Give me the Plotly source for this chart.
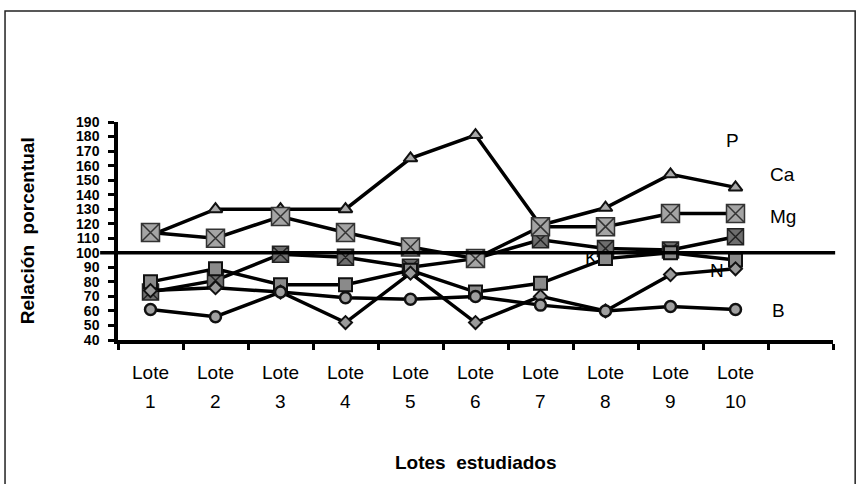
import plotly.graph_objects as go

lotes = [1, 2, 3, 4, 5, 6, 7, 8, 9, 10]
lote_word = "Lote"
lote_nums = ["1", "2", "3", "4", "5", "6", "7", "8", "9", "10"]

N_vals = [74, 76, 73, 52, 86, 52, 70, 60, 85, 89]
P_vals = [80, 89, 78, 78, 88, 73, 79, 96, 100, 95]
Ca_vals = [112, 130, 130, 130, 165, 181, 119, 131, 154, 145]
Mg_vals = [114, 110, 125, 114, 104, 96, 118, 118, 127, 127]
K_vals = [73, 81, 99, 97, 90, 96, 109, 103, 102, 111]
B_vals = [61, 56, 73, 69, 68, 70, 64, 60, 63, 61]

y_ticks = [40, 50, 60, 70, 80, 90, 100, 110, 120, 130, 140, 150, 160, 170, 180, 190]
ref_value = 100

FONT = "Liberation Sans, Arial, sans-serif"

series = [
    ("K", K_vals, dict(symbol="square-x", size=16, color="#6e6e6e", line=dict(color="#222", width=1.5))),
    ("P", P_vals, dict(symbol="square", size=13, color="#8a8a8a", line=dict(color="#111", width=2))),
    ("N", N_vals, dict(symbol="diamond", size=10, color="#9a9a9a", line=dict(color="#111", width=2))),
    ("B", B_vals, dict(symbol="circle", size=11, color="#a0a0a0", line=dict(color="#111", width=2.5))),
    ("Ca", Ca_vals, dict(symbol="triangle-up", size=12, color="#a8a8a8", line=dict(color="#111", width=2))),
    ("Mg", Mg_vals, dict(symbol="square-x", size=18, color="#a4a4a4", line=dict(color="#333", width=1.5))),
]

fig = go.Figure()
for name, vals, mk in series:
    fig.add_trace(go.Scatter(x=lotes, y=vals, mode="lines+markers", name=name,
                             line=dict(color="black", width=3.5), marker=mk,
                             showlegend=False))

# reference line at 100
fig.add_shape(type="line", xref="paper", yref="y", x0=-0.025, x1=1.003,
              y0=ref_value, y1=ref_value, line=dict(color="black", width=3.5))

# outer frame
fig.add_shape(type="rect", xref="paper", yref="paper", x0=-0.158, x1=1.031,
              y0=-0.70, y1=1.509, line=dict(color="#222", width=1.5))

# series labels
labels = [("P", 9.95, 177.6), ("Ca", 10.73, 153.6), ("Mg", 10.73, 124.7),
          ("K", 7.79, 96.5), ("N", 9.72, 88.0), ("B", 10.66, 60.6)]
for txt, lx, ly in labels:
    fig.add_annotation(x=lx, y=ly, xref="x", yref="y", text=txt, showarrow=False,
                       xanchor="center", yanchor="middle",
                       font=dict(family=FONT, size=19, color="black"))

# x category labels
for x, num in zip(lotes, lote_nums):
    fig.add_annotation(x=x, y=-0.151, xref="x", yref="paper", text=lote_word, showarrow=False,
                       xanchor="center", yanchor="middle",
                       font=dict(family=FONT, size=19, color="black"))
    fig.add_annotation(x=x, y=-0.284, xref="x", yref="paper", text=num, showarrow=False,
                       xanchor="center", yanchor="middle",
                       font=dict(family=FONT, size=19, color="black"))

# axis titles
fig.add_annotation(x=0.5, y=-0.56, xref="paper", yref="paper",
                   text="<b>Lotes&nbsp;&nbsp;estudiados</b>",
                   xanchor="center", yanchor="middle",
                   showarrow=False, font=dict(family=FONT, size=19, color="black"))
fig.add_annotation(x=-0.127, y=0.5, xref="paper", yref="paper",
                   text="<b>Relación&nbsp;&nbsp;porcentual</b>",
                   xanchor="center", yanchor="middle",
                   textangle=-90, showarrow=False,
                   font=dict(family=FONT, size=19, color="black"))

fig.update_layout(
    width=858, height=484,
    margin=dict(l=118, r=25, t=122, b=144),
    paper_bgcolor="white", plot_bgcolor="white",
    xaxis=dict(range=[0.5, 11.5], tickvals=[i + 0.5 for i in range(0, 12)],
               ticktext=[""] * 12, ticks="outside", ticklen=6, tickwidth=3, tickcolor="black",
               showline=True, linewidth=3.5, linecolor="black", showgrid=False, zeroline=False),
    yaxis=dict(range=[40, 190], tickvals=y_ticks, ticktext=[str(v) for v in y_ticks],
               ticks="outside", ticklen=6, tickwidth=3, tickcolor="black", ticklabelstandoff=6,
               showline=True, linewidth=3.5, linecolor="black", showgrid=False, zeroline=False,
               tickfont=dict(family=FONT, size=14, color="black", weight="bold")),
)

fig.write_html("out.html", config={"displayModeBar": False},
               post_script="document.body.style.margin='0';document.body.style.overflow='hidden';")
